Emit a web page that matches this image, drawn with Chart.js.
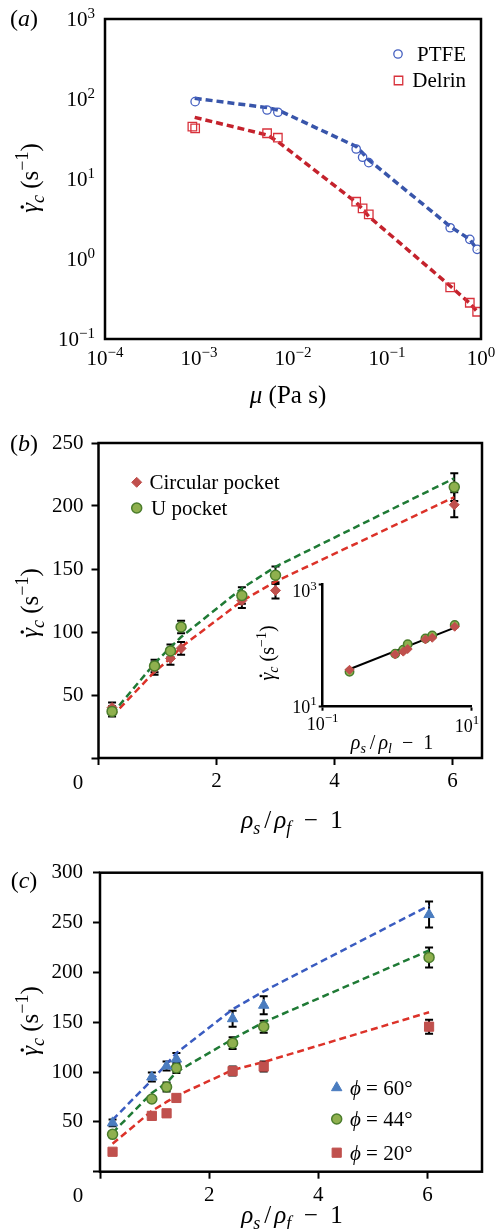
<!DOCTYPE html>
<html>
<head>
<meta charset="utf-8">
<script src="https://cdn.jsdelivr.net/npm/chart.js@4.4.1/dist/chart.umd.min.js"></script>
<style>
  body { margin: 0; background: #fff; width: 496px; height: 1229px; position: relative; overflow: hidden; }
  canvas { position: absolute; }
</style>
</head>
<body>
<canvas id="chartA" width="496" height="410" style="left:0;top:0"></canvas>
<canvas id="chartB" width="496" height="432" style="left:0;top:410px"></canvas>
<canvas id="chartInset" width="232" height="190" style="left:250px;top:565px"></canvas>
<canvas id="chartC" width="496" height="399" style="left:0;top:830px"></canvas>
<script>
/* (a) critical shear rate vs viscosity */
const muExp   = [-4, -3, -2, -1, 0];
const rateExp = [-1, 0, 1, 2, 3];
const muPTFE     = [9.1e-4, 5.3e-3, 6.9e-3, 0.047, 0.055, 0.064, 0.47, 0.76, 0.91];
const ratePTFE   = [92.6, 72.9, 68.3, 23.7, 18.7, 16.0, 2.46, 1.76, 1.32];
const muDelrin   = [8.5e-4, 9.1e-4, 5.3e-3, 6.9e-3, 0.047, 0.055, 0.064, 0.47, 0.76, 0.91];
const rateDelrin = [45.1, 43.0, 37.3, 32.8, 5.2, 4.3, 3.62, 0.443, 0.284, 0.219];
const muFit      = [9.0e-4, 5.3e-3, 6.9e-3, 0.047, 0.055, 0.064, 0.47, 0.76, 0.91];
const fitPTFE    = [102, 78, 73, 25.5, 21.1, 17.3, 2.55, 1.76, 1.30];
const fitDelrin  = [59, 35.5, 29.3, 5.1, 4.2, 3.4, 0.46, 0.28, 0.22];

/* (b) pocket shape */
const ratioTicks   = [0, 2, 4, 6];
const ratioB       = [0.23, 0.95, 1.22, 1.40, 2.43, 3.0, 6.03];
const circularRate = [40, 71, 79, 87, 125, 133, 201];
const circularErr  = [4, 5, 5, 5, 6, 6.5, 10];
const circularFit  = [33, 68.5, 79, 88, 124.6, 140, 207];
const uRate        = [37, 73, 85, 104, 129, 145, 215];
const uErr         = [4, 5, 5, 5, 6.5, 7, 11];
const uFit         = [35, 75, 88, 96, 134.6, 151.8, 222];
const insetFitX    = [0.22, 6.4];
const insetFitY    = [40, 200];

/* (c) pocket angle */
const ratioC = [0.23, 0.95, 1.22, 1.40, 2.43, 3.0, 6.03];
const rate60 = [49, 95, 106, 113, 153.5, 167, 258];
const err60  = [3.5, 4.5, 4.5, 6, 8, 9, 13];
const fit60  = [52, 92, 108, 119, 163, 181, 267];
const rate44 = [37.5, 73, 85, 104, 129, 145.5, 215];
const err44  = [2.5, 3, 4.5, 5, 6, 6, 10];
const fit44  = [39, 79, 89, 100, 133, 150, 222];
const rate20 = [20, 56, 58.6, 74, 101, 105.5, 145.5];
const err20  = [1, 1, 1, 2, 4.5, 5, 7];
const fit20  = [28, 61, 70, 76, 102, 110, 160];

const SERIF = '"Liberation Serif", "DejaVu Serif", serif';
Chart.defaults.font.family = SERIF;
Chart.defaults.font.size = 21;
Chart.defaults.color = '#000';
Chart.defaults.animation = false;
Chart.defaults.responsive = false;
Chart.defaults.plugins.legend.display = false;
Chart.defaults.plugins.tooltip.enabled = false;

const pts = (xs, ys) => xs.map((x, i) => ({ x, y: ys[i] }));

// text with italics / sub / superscripts; y is the visual middle of the digits
function rich(ctx, parts, x, y, { size = 21, align = 'center', rot = 0 } = {}) {
  ctx.save();
  ctx.translate(x, y);
  ctx.rotate(rot);
  ctx.fillStyle = '#000';
  ctx.textAlign = 'left';
  ctx.textBaseline = 'alphabetic';
  const fontOf = p => (p.i ? 'italic ' : '') + Math.round(p.s ? size * 0.7 : size) + 'px ' + SERIF;
  let w = 0;
  const widths = parts.map(p => { ctx.font = fontOf(p); const pw = ctx.measureText(p.t).width + (p.gap || 0); w += pw; return pw; });
  let cx = align === 'center' ? -w / 2 : align === 'right' ? -w : 0;
  const base = size * 0.33;
  parts.forEach((p, k) => {
    ctx.font = fontOf(p);
    const dy = p.s === 'sup' ? -size * 0.4 : p.s === 'sub' ? size * 0.24 : 0;
    ctx.fillText(p.t, cx, base + dy);
    if (p.dot) {
      ctx.beginPath();
      ctx.arc(cx + widths[k] * 0.6, base - size * 0.64, size * 0.07, 0, Math.PI * 2);
      ctx.fill();
    }
    cx += widths[k];
  });
  ctx.restore();
}

const pow10 = e => [{ t: '10' }, { t: e < 0 ? '\u2212' + (-e) : String(e), s: 'sup' }];
const panelLabel = c => [{ t: '(' }, { t: c, i: 1 }, { t: ')' }];
const gammaTitle = [{ t: 'γ', i: 1, dot: 1 }, { t: 'c', i: 1, s: 'sub' }, { t: ' (s' }, { t: '\u22121', s: 'sup' }, { t: ')' }];
const muTitle = [{ t: 'μ', i: 1 }, { t: ' (Pa s)' }];
const rhoTitle = sub => [{ t: 'ρ', i: 1 }, { t: 's', i: 1, s: 'sub', gap: 4 }, { t: '/', gap: 3 }, { t: 'ρ', i: 1 }, { t: sub, i: 1, s: 'sub' }, { t: '  \u2212  1' }];
const phiLabel = deg => [{ t: 'ϕ', i: 1 }, { t: ' = ' + deg + '°' }];

function frame(ctx, a, lw) {
  ctx.save();
  ctx.strokeStyle = '#000';
  ctx.lineWidth = lw;
  ctx.strokeRect(a.left, a.top, a.right - a.left, a.bottom - a.top);
  ctx.restore();
}

function legendRow(ctx, ds, mx, my, parts, tx, align) {
  ctx.save();
  ctx.fillStyle = ds.backgroundColor;
  ctx.strokeStyle = ds.borderColor;
  ctx.lineWidth = ds.borderWidth;
  Chart.helpers.drawPoint(ctx, { pointStyle: ds.pointStyle, radius: ds.pointRadius, borderWidth: ds.borderWidth, rotation: 0 }, mx, my);
  ctx.restore();
  rich(ctx, parts, tx, my, { size: 21, align });
}

const errorBars = {
  id: 'errorBars',
  beforeDatasetsDraw(chart) {
    const { ctx, scales: { x, y } } = chart;
    ctx.save();
    ctx.strokeStyle = '#000';
    ctx.lineWidth = 2;
    chart.data.datasets.forEach(ds => {
      if (!ds.errors) return;
      ds.data.forEach((p, i) => {
        const px = x.getPixelForValue(p.x);
        const t = y.getPixelForValue(p.y + ds.errors[i]);
        const b = y.getPixelForValue(p.y - ds.errors[i]);
        ctx.beginPath();
        ctx.moveTo(px, t); ctx.lineTo(px, b);
        ctx.moveTo(px - 4, t); ctx.lineTo(px + 4, t);
        ctx.moveTo(px - 4, b); ctx.lineTo(px + 4, b);
        ctx.stroke();
      });
    });
    ctx.restore();
  }
};

const tickMarks = { display: true, drawOnChartArea: false, drawTicks: true, tickLength: 7, tickWidth: 2, tickColor: '#000' };
const decadeTicks = exps => scale => { scale.ticks = exps.map(e => ({ value: Math.pow(10, e) })); };
const fixedTicks = vals => scale => { scale.ticks = vals.map(v => ({ value: v })); };

/* ---------- (a) ---------- */
const chartA = new Chart(document.getElementById('chartA'), {
  type: 'scatter',
  data: {
    datasets: [
      { label: 'PTFE', data: pts(muPTFE, ratePTFE), pointStyle: 'circle', pointRadius: 4.2,
        borderColor: '#4560c0', backgroundColor: 'rgba(255,255,255,0)', borderWidth: 1.3 },
      { label: 'Delrin', data: pts(muDelrin, rateDelrin), pointStyle: 'rect', pointRadius: 6,
        borderColor: '#d8323c', backgroundColor: 'rgba(255,255,255,0)', borderWidth: 1.3 },
      { data: pts(muFit, fitPTFE), showLine: true, pointRadius: 0, borderColor: '#3855aa', borderWidth: 3.5, borderDash: [7, 4] },
      { data: pts(muFit, fitDelrin), showLine: true, pointRadius: 0, borderColor: '#c4222c', borderWidth: 3.5, borderDash: [7, 4] },
    ],
  },
  options: {
    layout: { padding: { top: 19, right: 15, left: 0, bottom: 0 } },
    scales: {
      x: { type: 'logarithmic', min: 1e-4, max: 1, afterBuildTicks: decadeTicks(muExp),
           afterFit: s => { s.height = 71; }, grid: { display: false }, border: { display: false }, ticks: { display: false } },
      y: { type: 'logarithmic', min: 0.1, max: 1000, afterBuildTicks: decadeTicks(rateExp),
           afterFit: s => { s.width = 105; }, grid: { display: false }, border: { display: false }, ticks: { display: false } },
    },
  },
  plugins: [{
    id: 'decorA',
    afterDraw(chart) {
      const { ctx, chartArea: a, scales: { x, y } } = chart;
      frame(ctx, a, 2.5);
      muExp.forEach(e => rich(ctx, pow10(e), x.getPixelForValue(Math.pow(10, e)), a.bottom + 19));
      rateExp.forEach(e => rich(ctx, pow10(e), a.left - 10, y.getPixelForValue(Math.pow(10, e)), { align: 'right' }));
      rich(ctx, muTitle, 288, 395, { size: 25 });
      rich(ctx, gammaTitle, 30, 178, { size: 25, rot: -Math.PI / 2 });
      rich(ctx, panelLabel('a'), 24, 18, { size: 24 });
      const ds = chart.data.datasets;
      legendRow(ctx, ds[0], 398, 54, [{ t: 'PTFE' }], 466, 'right');
      legendRow(ctx, ds[1], 398.5, 80.5, [{ t: 'Delrin' }], 466, 'right');
    }
  }],
});

/* ---------- (b) ---------- */
const chartB = new Chart(document.getElementById('chartB'), {
  type: 'scatter',
  data: {
    datasets: [
      { label: 'U pocket', data: pts(ratioB, uRate), errors: uErr, pointStyle: 'circle', pointRadius: 5,
        backgroundColor: '#8fb04e', borderColor: '#4b7d2c', borderWidth: 1.5 },
      { label: 'Circular pocket', data: pts(ratioB, circularRate), errors: circularErr, pointStyle: 'rectRot', pointRadius: 5,
        backgroundColor: '#c0504d', borderColor: '#c0504d', borderWidth: 1 },
      { data: pts(ratioB, uFit), showLine: true, pointRadius: 0, borderColor: '#1f7a35', borderWidth: 2.5, borderDash: [7, 4] },
      { data: pts(ratioB, circularFit), showLine: true, pointRadius: 0, borderColor: '#dc3229', borderWidth: 2.5, borderDash: [7, 4] },
    ],
  },
  options: {
    layout: { padding: { top: 33, right: 14, left: 0, bottom: 0 } },
    scales: {
      x: { type: 'linear', min: 0, max: 6.5, afterBuildTicks: fixedTicks(ratioTicks), afterFit: s => { s.height = 84; },
           grid: tickMarks, border: { display: false },
           ticks: { padding: 4, callback: v => (v === 0 ? '' : v) } },
      y: { type: 'linear', min: 0, max: 250, afterFit: s => { s.width = 98.5; },
           grid: tickMarks, border: { display: false },
           ticks: { stepSize: 50, padding: 8, callback: v => (v === 0 ? '' : v) } },
    },
  },
  plugins: [errorBars, {
    id: 'decorB',
    afterDraw(chart) {
      const { ctx, chartArea: a } = chart;
      frame(ctx, a, 2.5);
      rich(ctx, [{ t: '0' }], 78, a.bottom + 24);
      rich(ctx, rhoTitle('f'), 292, 410, { size: 25 });
      rich(ctx, gammaTitle, 30, 193, { size: 25, rot: -Math.PI / 2 });
      rich(ctx, panelLabel('b'), 24, 33, { size: 24 });
      const ds = chart.data.datasets;
      legendRow(ctx, ds[1], 136.7, 72.3, [{ t: 'Circular pocket' }], 149.5, 'left');
      legendRow(ctx, ds[0], 136.7, 98, [{ t: 'U pocket' }], 151, 'left');
    }
  }],
});

/* ---------- (b) inset, log-log ---------- */
const chartInset = new Chart(document.getElementById('chartInset'), {
  type: 'scatter',
  data: {
    datasets: [
      { data: pts(ratioB, circularRate), pointStyle: 'rectRot', pointRadius: 4.5,
        backgroundColor: '#c0504d', borderColor: '#c0504d', borderWidth: 1 },
      { data: pts(ratioB, uRate), pointStyle: 'circle', pointRadius: 4.2,
        backgroundColor: '#8fb04e', borderColor: '#4b7d2c', borderWidth: 1.5 },
      { data: pts(insetFitX, insetFitY), showLine: true, pointRadius: 0, borderColor: '#000', borderWidth: 2 },
    ],
  },
  options: {
    layout: { padding: { top: 19, right: 11, left: 0, bottom: 0 } },
    scales: {
      x: { type: 'logarithmic', min: 0.1, max: 10, afterBuildTicks: decadeTicks([-1, 1]),
           afterFit: s => { s.height = 48.3; },
           grid: { ...tickMarks, tickLength: 4 }, border: { display: true, color: '#000', width: 2.5 },
           ticks: { display: false } },
      y: { type: 'logarithmic', min: 10, max: 1000, afterBuildTicks: decadeTicks([1, 3]),
           afterFit: s => { s.width = 72.7; },
           grid: { ...tickMarks, tickLength: 4 }, border: { display: true, color: '#000', width: 2.5 },
           ticks: { display: false } },
    },
  },
  plugins: [{
    id: 'decorInset',
    afterDraw(chart) {
      const { ctx, chartArea: a, scales: { x, y } } = chart;
      rich(ctx, pow10(3), a.left - 6, y.getPixelForValue(1000) + 7, { size: 18, align: 'right' });
      rich(ctx, pow10(1), a.left - 6, y.getPixelForValue(10), { size: 18, align: 'right' });
      rich(ctx, pow10(-1), x.getPixelForValue(0.1), a.bottom + 17, { size: 18 });
      rich(ctx, pow10(1), x.getPixelForValue(10) - 4, a.bottom + 19, { size: 18 });
      rich(ctx, rhoTitle('l'), 142, 177, { size: 20 });
      rich(ctx, gammaTitle, 17, 88, { size: 20, rot: -Math.PI / 2 });
    }
  }],
});

/* ---------- (c) ---------- */
const chartC = new Chart(document.getElementById('chartC'), {
  type: 'scatter',
  data: {
    datasets: [
      { label: 'phi 60', data: pts(ratioC, rate60), errors: err60, pointStyle: 'triangle', pointRadius: 6,
        backgroundColor: '#4a7cbf', borderColor: '#4a7cbf', borderWidth: 1 },
      { label: 'phi 44', data: pts(ratioC, rate44), errors: err44, pointStyle: 'circle', pointRadius: 5,
        backgroundColor: '#8fb04e', borderColor: '#4b7d2c', borderWidth: 1.5 },
      { label: 'phi 20', data: pts(ratioC, rate20), errors: err20, pointStyle: 'rect', pointRadius: 6.5,
        backgroundColor: '#c0504d', borderColor: '#c0504d', borderWidth: 1 },
      { data: pts(ratioC, fit60), showLine: true, pointRadius: 0, borderColor: '#3a5cc0', borderWidth: 2.5, borderDash: [7, 4] },
      { data: pts(ratioC, fit44), showLine: true, pointRadius: 0, borderColor: '#1f7a35', borderWidth: 2.5, borderDash: [7, 4] },
      { data: pts(ratioC, fit20), showLine: true, pointRadius: 0, borderColor: '#dc3229', borderWidth: 2.5, borderDash: [7, 4] },
    ],
  },
  options: {
    layout: { padding: { top: 42.7, right: 14, left: 0, bottom: 0 } },
    scales: {
      x: { type: 'linear', min: 0, max: 7, afterBuildTicks: fixedTicks(ratioTicks), afterFit: s => { s.height = 57.3; },
           grid: tickMarks, border: { display: false },
           ticks: { padding: 4, callback: v => (v === 0 ? '' : v) } },
      y: { type: 'linear', min: 0, max: 300, afterFit: s => { s.width = 100; },
           grid: tickMarks, border: { display: false },
           ticks: { stepSize: 50, padding: 10, callback: v => (v === 0 ? '' : v) } },
    },
  },
  plugins: [errorBars, {
    id: 'decorC',
    afterDraw(chart) {
      const { ctx, chartArea: a } = chart;
      frame(ctx, a, 2.5);
      rich(ctx, [{ t: '0' }], 78, a.bottom + 23.5);
      rich(ctx, rhoTitle('f'), 292, 385, { size: 25 });
      rich(ctx, gammaTitle, 30, 191, { size: 25, rot: -Math.PI / 2 });
      rich(ctx, panelLabel('c'), 24, 50, { size: 24 });
      const ds = chart.data.datasets;
      legendRow(ctx, ds[0], 336.7, 257.7, phiLabel(60), 350, 'left');
      legendRow(ctx, ds[1], 336.7, 289, phiLabel(44), 350, 'left');
      legendRow(ctx, ds[2], 336.7, 322.7, phiLabel(20), 350, 'left');
    }
  }],
});
</script>
</body>
</html>
